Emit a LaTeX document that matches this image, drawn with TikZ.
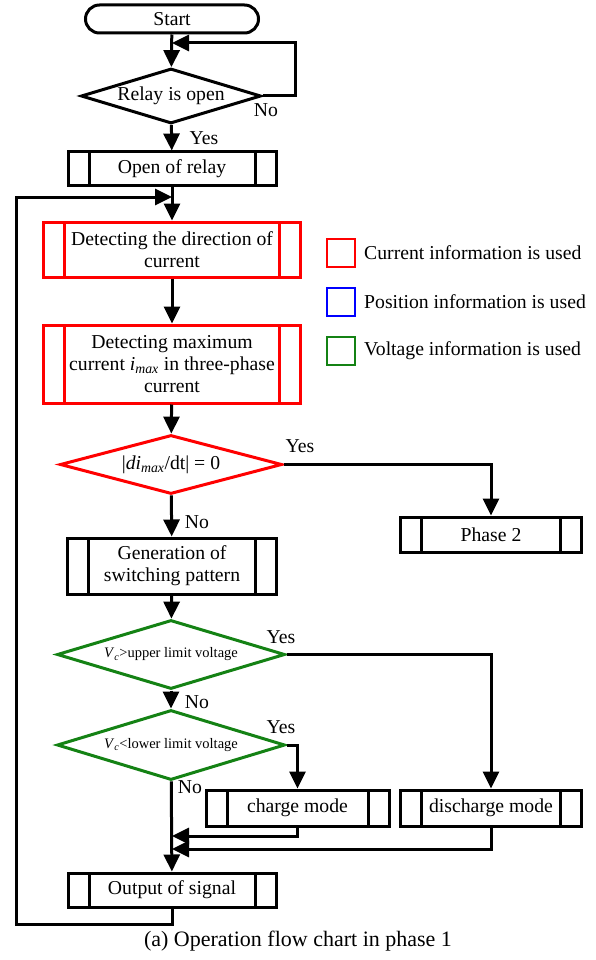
\documentclass[tikz,border=0pt]{standalone}
\usepackage{fontspec}
\setmainfont{Liberation Serif}
\usetikzlibrary{arrows.meta,shapes.geometric,calc}
\definecolor{myred}{RGB}{255,0,0}
\definecolor{mygreen}{RGB}{20,130,20}
\definecolor{myblue}{RGB}{0,0,255}
\begin{document}
\begin{tikzpicture}[x=1pt,y=-1pt,
  base/.style={font=\fontsize{19.7}{22}\selectfont, line width=3pt, inner sep=0pt, align=center},
  term/.style={base, draw, rounded corners=14pt, minimum width=173pt, minimum height=28pt},
  pp/.style={base, draw=#1, rectangle,
    path picture={\draw[#1, line width=3pt]
      ([xshift=21pt]path picture bounding box.north west) -- ([xshift=21pt]path picture bounding box.south west)
      ([xshift=-21pt]path picture bounding box.north east) -- ([xshift=-21pt]path picture bounding box.south east);}},
  pp/.default=black,
  dec/.style={base, draw=#1, diamond, aspect=3.2},
  dec/.default=black,
  lbl/.style={font=\fontsize{19.7}{22}\selectfont, inner sep=0pt},
  arr/.style={line width=3pt, -{Triangle[length=17pt,width=16pt]}},
  leg/.style={draw=#1, line width=2.4pt, minimum width=28pt, minimum height=28pt, inner sep=0pt}
]
\useasboundingbox (0,0) rectangle (595,960);

\node[term] (start) at (172,19) {Start};
\node[dec, minimum width=180pt, minimum height=55pt] (d1) at (171,96) {Relay is open};
\node[pp, minimum width=208pt, minimum height=33pt] (open) at (172,168.5) {Open of relay};
\node[pp=myred, minimum width=257pt, minimum height=55pt] (r1) at (172,249.5) {Detecting the direction of\\current};
\node[pp=myred, minimum width=257pt, minimum height=78pt] (r2) at (172,364) {Detecting maximum\\current \textit{i}\textsubscript{\textit{max}} in three-phase\\current};
\node[dec=myred, minimum width=222pt, minimum height=59pt] (d2) at (171,464.5) {|\textit{di}\textsubscript{\textit{max}}/dt| = 0};
\node[pp, minimum width=181pt, minimum height=35pt] (ph2) at (491,534.5) {Phase 2};
\node[pp, minimum width=209pt, minimum height=56pt] (gen) at (172,566) {Generation of\\switching pattern};
\node[dec=mygreen, minimum width=228pt, minimum height=69pt, font=\fontsize{14.5}{16}\selectfont] (d3) at (171,654.5) {\textit{V}\textsubscript{\textit{c}}>upper limit voltage};
\node[dec=mygreen, minimum width=228pt, minimum height=70pt, font=\fontsize{14.5}{16}\selectfont] (d4) at (171,745) {\textit{V}\textsubscript{\textit{c}}<lower limit voltage};
\node[pp, minimum width=183pt, minimum height=36pt] (chg) at (297.5,808) {charge mode};
\node[pp, minimum width=181pt, minimum height=36pt] (dis) at (491,808) {discharge mode};
\node[pp, minimum width=208pt, minimum height=34pt] (out) at (172,890) {Output of signal};

% legend
\node[leg=myred] (l1) at (341,253) {};
\node[leg=myblue] (l2) at (341,302) {};
\node[leg=mygreen] (l3) at (341,351) {};
\node[lbl, anchor=west] (t1) at (364,253) {Current information is used};
\node[lbl, anchor=west] (t2) at (364,302) {Position information is used};
\node[lbl, anchor=west] (t3) at (364,351) {Voltage information is used};

% coordinates
\coordinate (loopA) at (172,43);
\coordinate (loopB) at (172,197);
\coordinate (m1) at (172,836);
\coordinate (m2) at (172,849);

% connectors
\draw[arr] (start) -- (d1);
\draw[arr] (d1.east) -- ++(33,0) |- (loopA);
\draw[arr] (d1) -- (open);
\draw[arr] (open) -- (r1);
\draw[arr] (r1) -- (r2);
\draw[arr] (r2) -- (d2);
\draw[arr] (d2.east) -| (ph2.north);
\draw[arr] (d2) -- (gen);
\draw[arr] (gen) -- (d3);
\draw[arr] (d3.east) -| (dis.north);
\draw[arr] (d3) -- (d4);
\draw[arr] (d4.east) -| (chg.north);
\draw[arr] (d4) -- (out);
\draw[arr] (chg.south) |- (m1);
\draw[arr] (dis.south) |- (m2);
\draw[arr] (out.south) -- ++(0,16) -| (16,197) -- (loopB);

% labels
\node[lbl] (y1) at (204,138) {Yes};
\node[lbl] (n1) at (266,110) {No};
\node[lbl] (y2) at (300,446) {Yes};
\node[lbl] (n2) at (197,522) {No};
\node[lbl] (y3) at (281,637) {Yes};
\node[lbl] (n3) at (197,702) {No};
\node[lbl] (y4) at (281,727) {Yes};
\node[lbl] (n4) at (190,787) {No};

\node[lbl, font=\fontsize{22}{24}\selectfont] (cap) at (298,941) {(a) Operation flow chart in phase 1};
\end{tikzpicture}
\end{document}
